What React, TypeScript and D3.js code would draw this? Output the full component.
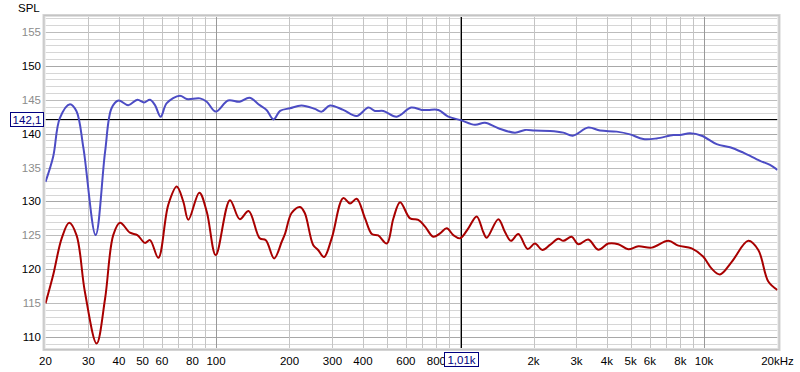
import React from "react";
import * as d3 from "d3";

const blueFreq = [20, 21.5, 22.9, 25.2, 26.8, 28.6, 32.1, 35.1, 37.3, 39.8, 43.7, 47.6, 50.7, 53.6, 56.2, 59.3, 62.8, 71.1, 75.8, 85.9, 91.6, 99.7, 112, 125, 137, 151, 161, 172, 183, 201, 224, 254, 271, 293, 332, 377, 421, 448, 485, 550, 630, 697, 741, 815, 895, 1006, 1151, 1265, 1435, 1680, 1846, 2028, 2336, 2650, 2896, 3354, 3746, 4386, 4972, 5636, 6396, 7482, 7972, 8758, 9780, 11268, 12776, 14482, 16958, 18636, 20000];
const blueSpl = [132.9, 136.6, 142.3, 144.35, 143.3, 137.9, 125.05, 137.35, 143.75, 144.9, 144.2, 145.0, 144.6, 145.0, 144.2, 142.5, 144.5, 145.6, 145.1, 145.2, 144.7, 143.25, 144.9, 144.7, 145.3, 144.2, 143.5, 142.1, 143.35, 143.75, 144.15, 143.65, 143.25, 144.15, 143.5, 142.6, 143.85, 143.35, 143.35, 142.5, 143.85, 143.5, 143.5, 143.5, 142.5, 142.0, 141.3, 141.6, 140.8, 140.15, 140.55, 140.45, 140.4, 140.15, 139.7, 140.9, 140.45, 140.3, 139.9, 139.2, 139.3, 139.8, 139.8, 140.05, 139.7, 138.45, 138.0, 137.2, 136.0, 135.4, 134.65];

const redFreq = [20, 21.5, 23.3, 25.0, 26.8, 29.0, 32.4, 35.1, 37.9, 40.4, 44.4, 47.6, 51.1, 53.6, 58.0, 63.7, 69.0, 73.4, 77.0, 85.4, 91.6, 99.7, 114, 125, 136, 151, 160, 173, 186, 192, 204, 221, 231, 250, 262, 277, 298, 332, 354, 377, 408, 435, 462, 501, 533, 568, 624, 674, 719, 777, 828, 882, 938, 1000, 1081, 1170, 1245, 1286, 1435, 1528, 1617, 1733, 1893, 2028, 2174, 2336, 2528, 2650, 2868, 3052, 3354, 3686, 4052, 4452, 4894, 5378, 6102, 7136, 7844, 8900, 9930, 10748, 11624, 12984, 15182, 16684, 18340, 20000];
const redSpl = [114.97, 119.15, 124.57, 126.87, 125.05, 116.7, 109.07, 115.7, 125.05, 126.87, 125.4, 125.05, 123.9, 124.3, 121.7, 129.5, 132.2, 130.0, 127.3, 131.3, 128.5, 122.1, 130.2, 127.4, 128.6, 124.57, 124.3, 121.6, 124.1, 125.3, 128.3, 129.2, 128.3, 123.6, 122.85, 121.8, 124.6, 130.5, 129.7, 130.4, 127.5, 125.2, 125.0, 123.8, 127.5, 129.9, 127.5, 127.3, 126.3, 124.8, 125.3, 126.05, 125.05, 124.57, 126.05, 127.8, 125.5, 124.65, 127.4, 125.5, 124.2, 125.2, 123.0, 123.8, 122.85, 123.6, 124.5, 124.2, 124.8, 123.7, 124.4, 122.9, 123.8, 123.7, 122.95, 123.4, 123.2, 124.2, 123.5, 123.1, 121.85, 120.1, 119.25, 121.1, 124.2, 122.85, 118.2, 116.95];

const xTickValues = [20, 30, 40, 50, 60, 80, 100, 200, 300, 400, 600, 800, 2000, 3000, 4000, 5000, 6000, 8000, 10000, 20000];
const xTickLabels = ["20", "30", "40", "50", "60", "80", "100", "200", "300", "400", "600", "800", "2k", "3k", "4k", "5k", "6k", "8k", "10k", "20kHz"];
const yTickValues = [110, 115, 120, 125, 130, 135, 140, 145, 150, 155];
const xGridValues = [30, 40, 50, 60, 70, 80, 90, 100, 200, 300, 400, 500, 600, 700, 800, 900, 1000, 2000, 3000, 4000, 5000, 6000, 7000, 8000, 9000, 10000];
const cursorFreq = 1010;
const cursorSpl = 142.1;
const cursorFreqLabel = "1,01k";
const cursorSplLabel = "142,1";

const FONT = "'Liberation Sans', Arial, sans-serif";

export default function App() {
  const L = 45.5, R = 777.5, T = 17, B = 348;
  const x = d3.scaleLog().domain([20, 20000]).range([L, R]);
  const y = d3.scaleLinear().domain([108.4, 157.2]).range([B, T]);
  const line = d3.line<[number, number]>()
    .x((d) => x(d[0]))
    .y((d) => y(d[1]))
    .curve(d3.curveCatmullRom.alpha(0.5));
  const blue = line(blueFreq.map((f, i) => [f, blueSpl[i]]));
  const red = line(redFreq.map((f, i) => [f, redSpl[i]]));
  const hGrid = d3.range(109, 158, 1);
  const cx = Math.round(x(cursorFreq)) + 0.5;
  const cy = Math.round(y(cursorSpl)) + 0.5;

  return (
    <div style={{ position: "fixed", left: 0, top: 0 }}>
      <svg width={800} height={372} style={{ display: "block", background: "#fff" }}>
        <defs>
          <clipPath id="plot">
            <rect x={L} y={T} width={R - L} height={B - T} />
          </clipPath>
        </defs>
        {/* frame */}
        <rect x={L - 3} y={T - 3} width={R - L + 6} height={B - T + 6} fill="#d4d4d4" />
        <rect x={L - 2} y={T - 2} width={R - L + 4} height={B - T + 4} fill="#c4c4c4" />
        <rect x={L - 1} y={T - 1} width={R - L + 2} height={B - T + 2} fill="#e0e0e0" />
        <rect x={L} y={T} width={R - L} height={B - T} fill="#fff" />
        <g clipPath="url(#plot)">
          {hGrid.map((v) => {
            const yy = Math.round(y(v)) + 0.5;
            const c = v % 10 === 0 ? "#a8a8a8" : v % 5 === 0 ? "#bcbcbc" : "#d6d6d6";
            return <line key={"h" + v} x1={L} x2={R} y1={yy} y2={yy} stroke={c} strokeWidth={1} />;
          })}
          {xGridValues.map((v) => {
            const xx = Math.round(x(v)) + 0.5;
            const dec = v === 100 || v === 1000 || v === 10000;
            return <line key={"v" + v} x1={xx} x2={xx} y1={T} y2={B} stroke={dec ? "#999" : "#c4c4c4"} strokeWidth={1} />;
          })}
          <line x1={L} x2={R} y1={cy} y2={cy} stroke="#000" strokeWidth={1} />
          <line x1={cx} x2={cx} y1={T} y2={B} stroke="#000" strokeWidth={1} />
          <path d={red || ""} fill="none" stroke="#a80000" strokeWidth={2} strokeLinejoin="round" />
          <path d={blue || ""} fill="none" stroke="#4c4cc4" strokeWidth={2} strokeLinejoin="round" />
        </g>
        <text x={18} y={12} fontFamily={FONT} fontSize={11.5} fill="#000">SPL</text>
        {yTickValues.map((v) => (
          <text key={"yt" + v} x={41} y={y(v) + 4} textAnchor="end" fontFamily={FONT} fontSize={11.5}
            fill={v % 10 === 0 ? "#000" : "#8c8c8c"}>{v}</text>
        ))}
        {xTickValues.map((v, i) => (
          <text key={"xt" + v} x={x(v)} y={365} textAnchor="middle" fontFamily={FONT} fontSize={11.5} fill="#000">
            {xTickLabels[i]}
          </text>
        ))}
        <rect x={10.5} y={cy - 7} width={33} height={14} fill="#fff" stroke="#000080" strokeWidth={1} />
        <text x={27} y={cy + 4} textAnchor="middle" fontFamily={FONT} fontSize={11.5} fill="#000080">{cursorSplLabel}</text>
        <rect x={cx - 17} y={352.5} width={34} height={14} fill="#fff" stroke="#000080" strokeWidth={1} />
        <text x={cx} y={364} textAnchor="middle" fontFamily={FONT} fontSize={11.5} fill="#000080">{cursorFreqLabel}</text>
      </svg>
    </div>
  );
}
